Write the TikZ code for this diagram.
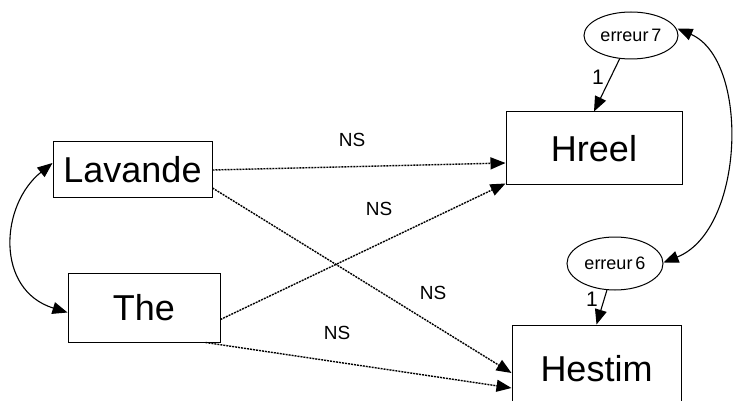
\documentclass[tikz,border=0pt]{standalone}
\usepackage{fontspec}
\setmainfont{Liberation Sans}
\usetikzlibrary{arrows.meta,shapes.geometric}
\tikzset{
  var/.style={draw,line width=1pt,rectangle,inner sep=0pt,font=\fontsize{36}{40}\selectfont},
  err/.style={draw,line width=1pt,ellipse,inner sep=0pt,font=\fontsize{18}{20}\selectfont},
  tip/.style={-{Triangle[length=15pt,width=12pt]}},
  both/.style={{Triangle[length=15pt,width=12pt]}-{Triangle[length=15pt,width=12pt]}},
  solidarr/.style={line width=1.1pt},
  dotarr/.style={line width=1.4pt,dash pattern=on 2pt off 1pt},
  lbl/.style={font=\fontsize{19}{21}\selectfont,inner sep=0pt},
  onelbl/.style={font=\fontsize{21}{23}\selectfont,inner sep=0pt}
}
\begin{document}
\begin{tikzpicture}[x=1pt,y=-1pt]
\useasboundingbox (0,0) rectangle (734,401);
\node[var,minimum width=159pt,minimum height=56pt] (lav) at (132.5,170) {Lavande};
\node[var,minimum width=152pt,minimum height=69pt] (the) at (144,307.5) {The};
\node[var,minimum width=176pt,minimum height=73pt] (hreel) at (594,148.5) {Hreel};
\node[var,minimum width=169pt,minimum height=88pt] (hestim) at (596.5,369) {Hestim};
\node[err,minimum width=94pt,minimum height=47pt] (e7) at (631,35.5) {erreur\,7};
\node[err,minimum width=96pt,minimum height=53pt] (e6) at (615,263.5) {erreur\,6};
% error paths
\draw[solidarr,tip] (e7) -- (hreel.north);
\draw[solidarr,tip] (e6) -- (hestim.north);
\node[onelbl] (one7) at (598,77) {1};
\node[onelbl] (one6) at (592,299) {1};
% covariances
\draw[solidarr,both] ([yshift=7pt]lav.west) .. controls (0,205) and (-5,290) .. ([yshift=-5pt]the.west);
\draw[solidarr,both] ([xshift=-1pt,yshift=7pt]e7.east) .. controls (750,60) and (745,230) .. ([yshift=1pt]e6.east);
% structural paths
\draw[dotarr,tip] (lav.east) -- ([yshift=-14.5pt]hreel.west);
\draw[dotarr,tip] ([yshift=-18pt]lav.east) -- ([yshift=-4pt]hestim.west);
\draw[dotarr,tip] ([yshift=-12pt]the.east) -- ([yshift=2pt]hreel.south west);
\draw[dotarr,tip] ([xshift=-15pt]the.south east) -- ([yshift=-19pt]hestim.west);
\node[lbl] (ns1) at (352,140) {NS};
\node[lbl] (ns2) at (379,209) {NS};
\node[lbl] (ns3) at (433,293) {NS};
\node[lbl] (ns4) at (337,333) {NS};
\end{tikzpicture}
\end{document}
